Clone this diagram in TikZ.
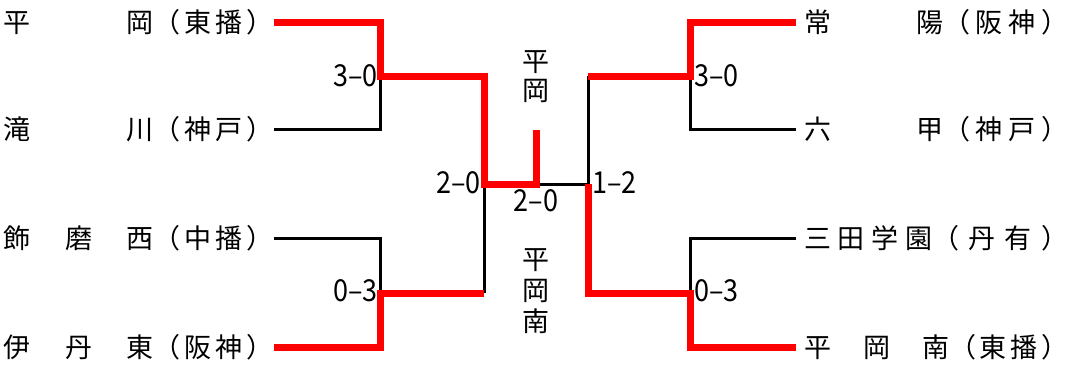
\documentclass[tikz,border=0pt]{standalone}
\usepackage{fontspec}
\setmainfont{Noto Sans CJK JP}
\usepackage{graphicx}
\usepackage{tikz}

% name part and district part, each spread over a fixed width
\newcommand{\team}[4]{\makebox[#1][l]{#3}\makebox[#2][l]{#4}}
% closing bracket, boxed only as wide as its ink
\newcommand{\kakko}{\makebox[11pt][l]{）}}
\newcommand{\kekka}[1]{\scalebox{1}[1.12]{#1}}

\begin{document}
\begin{tikzpicture}[x=1pt, y=-1pt,
  win/.style={draw=red, line width=7pt, line join=miter},
  lose/.style={draw=black, line width=3pt, line join=miter},
  lname/.style={anchor=east, inner sep=0pt, font=\fontsize{27pt}{30pt}\selectfont},
  rname/.style={anchor=west, inner ysep=0pt, inner xsep=8pt, font=\fontsize{27pt}{30pt}\selectfont},
  score/.style={inner sep=0pt, font=\fontsize{27pt}{30pt}\selectfont}]
\useasboundingbox (0,0) rectangle (1068,365);

% teams
\node[lname] (hiraoka) at (274,22) {\team{150pt}{120pt}{平\hfill 岡}{（\hfill 東\hfill 播\hfill ）}};
\node[lname] (takigawa) at (274,129) {\team{150pt}{120pt}{滝\hfill 川}{（\hfill 神\hfill 戸\hfill ）}};
\node[lname] (shikama) at (274,238) {\team{150pt}{120pt}{飾\hfill 磨\hfill 西}{（\hfill 中\hfill 播\hfill ）}};
\node[lname] (itami) at (274,347) {\team{150pt}{120pt}{伊\hfill 丹\hfill 東}{（\hfill 阪\hfill 神\hfill ）}};
\node[rname] (joyo) at (796,22) {\team{139pt}{109pt}{常\hfill 陽}{（\hfill 阪\hfill 神\hfill \kakko}};
\node[rname] (rokko) at (796,129) {\team{139pt}{109pt}{六\hfill 甲}{（\hfill 神\hfill 戸\hfill \kakko}};
\node[rname] (sanda) at (796,238) {\team{128pt}{120pt}{三\hfill 田\hfill 学\hfill 園}{（\hfill 丹\hfill 有\hfill \kakko}};
\node[rname] (hminami) at (796,347) {\team{145pt}{103pt}{平\hfill 岡\hfill 南}{（\hfill 東\hfill 播\hfill \kakko}};

% bracket points
\coordinate (l1) at (380,76);
\coordinate (l2) at (380,293);
\coordinate (r1) at (690,76);
\coordinate (r2) at (690,293);
\coordinate (ls) at (484,184);
\coordinate (rs) at (588,184);
\coordinate (top) at (536,184);
\coordinate (flag) at (536,130);

% losers
\draw[lose] (takigawa.east) -| (l1);
\draw[lose] (shikama.east) -| (l2);
\draw[lose] (rokko.west) -| (r1);
\draw[lose] (sanda.west) -| (r2);
\draw[lose] (ls |- l2) -- (ls);
\draw[lose] (rs |- r1) -- (rs);
\draw[lose] (top) -- (rs);

% winners
\draw[win] (hiraoka.east) -| (l1) -| (ls) -- (top) -- (flag);
\draw[win] (itami.east) -| (l2) -- (l2 -| ls);
\draw[win] (joyo.west) -| (r1) -- (r1 -| rs);
\draw[win] (hminami.west) -| (r2) -| (rs);

% scores
\node[score, anchor=east] (s1) at (378,76) {\kekka{3--0}};
\node[score, anchor=east] (s2) at (378,291) {\kekka{0--3}};
\node[score, anchor=west] (s3) at (694,76) {\kekka{3--0}};
\node[score, anchor=west] (s4) at (694,291) {\kekka{0--3}};
\node[score, anchor=east] (s5) at (481,183) {\kekka{2--0}};
\node[score] (s6) at (536,201) {\kekka{2--0}};
\node[score, anchor=west] (s7) at (592,183) {\kekka{1--2}};

% champion and runner-up
\node[score, align=center, font=\fontsize{27pt}{29pt}\selectfont] (champ) at (536,77) {平\\岡};
\node[score, align=center, font=\fontsize{27pt}{31pt}\selectfont] (second) at (536,291) {平\\岡\\南};
\end{tikzpicture}
\end{document}
